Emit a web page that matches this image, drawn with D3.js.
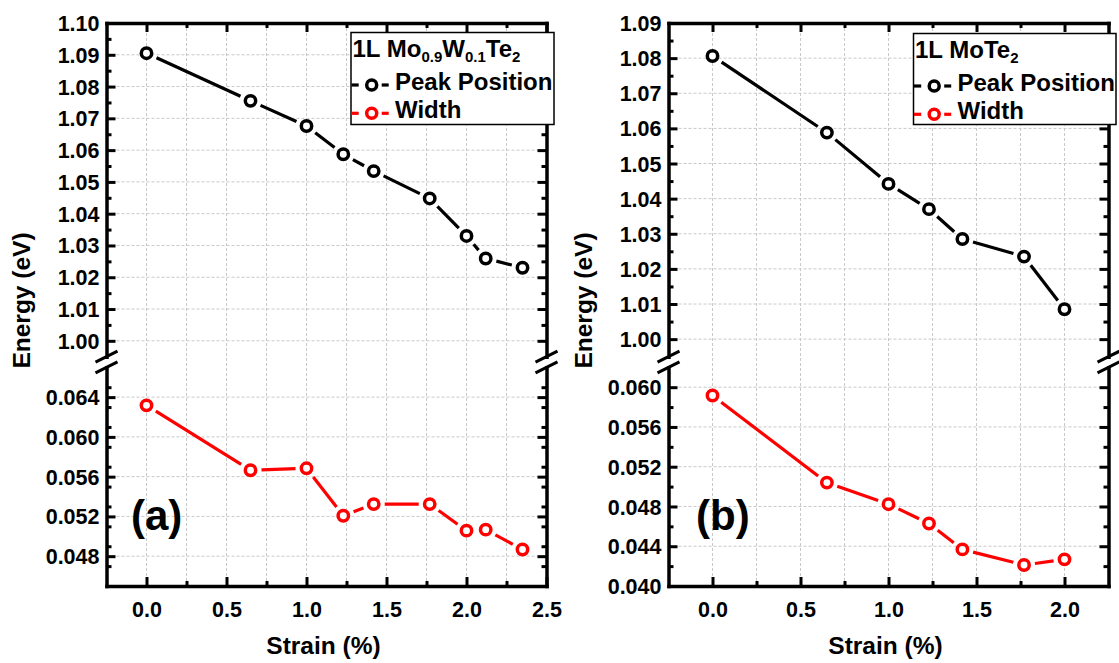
<!DOCTYPE html>
<html>
<head>
<meta charset="utf-8">
<script src="https://cdn.jsdelivr.net/npm/d3@7"></script>
<style>
  html, body { margin: 0; padding: 0; background: #fff; }
  svg { display: block; font-family: Arial, "Liberation Sans", sans-serif; font-weight: bold; }
</style>
</head>
<body>
<svg id="chart" width="1119" height="663"></svg>
<script>
// Strain (%) for each measurement
const strainA = [0, 0.65, 1.0, 1.23, 1.42, 1.77, 2.0, 2.12, 2.35];
const strainB = [0, 0.65, 1.0, 1.23, 1.42, 1.77, 2.0];

// 1L Mo0.9W0.1Te2: PL peak position and width (eV)
const peakA  = [1.0905, 1.0755, 1.0676, 1.0587, 1.0534, 1.0448, 1.0330, 1.0259, 1.0230];
const widthA = [0.06317, 0.05664, 0.05684, 0.05207, 0.05324, 0.05324, 0.05057, 0.05067, 0.04867];

// 1L MoTe2: PL peak position and width (eV)
const peakB  = [1.0806, 1.0588, 1.0442, 1.0370, 1.0285, 1.0235, 1.0085];
const widthB = [0.05916, 0.0504, 0.04823, 0.04629, 0.04368, 0.04211, 0.04268];

// Tick values
const xTicksA = [0, 0.5, 1.0, 1.5, 2.0, 2.5];
const xTicksB = [0, 0.5, 1.0, 1.5, 2.0];
const upperTicksA = [1.00, 1.01, 1.02, 1.03, 1.04, 1.05, 1.06, 1.07, 1.08, 1.09, 1.10];
const upperTicksB = [1.00, 1.01, 1.02, 1.03, 1.04, 1.05, 1.06, 1.07, 1.08, 1.09];
const lowerTicksA = [0.048, 0.052, 0.056, 0.060, 0.064];
const lowerTicksB = [0.040, 0.044, 0.048, 0.052, 0.056, 0.060];

const svg = d3.select("#chart");

function range(a, b, step) {
  const out = [];
  const n = Math.round((b - a) / step);
  for (let i = 0; i <= n; i++) out.push(+(a + i * step).toFixed(6));
  return out;
}

function drawPanel(p) {
  const g = svg.append("g");
  const x = d3.scaleLinear().domain(p.xDomain).range([p.left, p.right]);
  const yU = d3.scaleLinear().domain(p.upperDomain).range([p.breakTop, p.top]);
  const yL = d3.scaleLinear().domain(p.lowerDomain).range([p.bottom, p.breakBottom]);

  const inside = (v, dom) => v > dom[0] + 1e-9 && v < dom[1] - 1e-9;

  // dashed grid
  const grid = g.append("g").attr("stroke", "#c8c8c8").attr("stroke-width", 1)
    .attr("stroke-dasharray", "3,2").attr("fill", "none");
  p.xGrid.forEach(v => {
    grid.append("line").attr("x1", x(v)).attr("x2", x(v)).attr("y1", p.top).attr("y2", p.bottom);
  });
  p.upperTicks.filter(v => inside(v, p.upperDomain)).forEach(v => {
    grid.append("line").attr("x1", p.left).attr("x2", p.right).attr("y1", yU(v)).attr("y2", yU(v));
  });
  p.lowerTicks.filter(v => inside(v, p.lowerDomain)).forEach(v => {
    grid.append("line").attr("x1", p.left).attr("x2", p.right).attr("y1", yL(v)).attr("y2", yL(v));
  });

  // series: line segments with gaps around markers, then open circles
  function series(xs, ys, yScale, color) {
    const pts = xs.map((d, i) => [x(d), yScale(ys[i])]);
    const gap = 11;
    const sg = g.append("g").attr("stroke", color).attr("stroke-width", 3.2).attr("fill", "none");
    for (let i = 0; i < pts.length - 1; i++) {
      const [x1, y1] = pts[i], [x2, y2] = pts[i + 1];
      const len = Math.hypot(x2 - x1, y2 - y1);
      if (len <= 2 * gap) continue;
      const ux = (x2 - x1) / len, uy = (y2 - y1) / len;
      sg.append("line")
        .attr("x1", x1 + ux * gap).attr("y1", y1 + uy * gap)
        .attr("x2", x2 - ux * gap).attr("y2", y2 - uy * gap);
    }
    g.append("g").selectAll("circle").data(pts).join("circle")
      .attr("cx", d => d[0]).attr("cy", d => d[1]).attr("r", 5.2)
      .attr("fill", "#fff").attr("stroke", color).attr("stroke-width", 3.5);
  }
  series(p.strain, p.peak, yU, "#000");
  series(p.strain, p.width, yL, "#ff0000");

  // axes
  const xMinor = range(p.xDomain[0], p.xDomain[1], 0.25).filter(v => inside(v, p.xDomain) && !p.xTicks.includes(v));
  const uMinor = range(1.0, p.upperDomain[1], 0.005).filter(v => inside(v, p.upperDomain) && !p.upperTicks.some(t => Math.abs(t - v) < 1e-6));
  const lMinor = range(p.lowerDomain[0], p.lowerDomain[1], 0.002).filter(v => inside(v, p.lowerDomain) && !p.lowerTicks.some(t => Math.abs(t - v) < 1e-6));

  const axes = g.append("g");
  function addAxis(axis, transform) {
    const a = axes.append("g").attr("transform", transform).call(axis);
    a.attr("font-family", null);
    a.selectAll("path.domain").attr("stroke-width", 3.5).attr("stroke-linecap", "square");
    a.selectAll(".tick line").attr("stroke-width", 3);
    a.selectAll("text").attr("font-size", 21.5).attr("fill", "#000");
    return a;
  }
  function minorAxis(axis, transform) {
    const a = axes.append("g").attr("transform", transform).call(axis);
    a.select("path.domain").remove();
    a.selectAll(".tick line").attr("stroke-width", 3);
    a.selectAll("text").remove();
  }

  // bottom
  addAxis(d3.axisBottom(x).tickValues(p.xTicks).tickSize(-9).tickSizeOuter(0).tickPadding(15.5)
    .tickFormat(d3.format(".1f")), `translate(0,${p.bottom})`);
  minorAxis(d3.axisBottom(x).tickValues(xMinor).tickSize(-5), `translate(0,${p.bottom})`);
  // top
  addAxis(d3.axisTop(x).tickValues(p.xTicks).tickSize(-9).tickSizeOuter(0).tickFormat(""), `translate(0,${p.top})`);
  minorAxis(d3.axisTop(x).tickValues(xMinor).tickSize(-5), `translate(0,${p.top})`);

  // left, upper and lower segments
  const lu = addAxis(d3.axisLeft(yU).tickValues(p.upperTicks).tickSize(-9).tickSizeOuter(0).tickPadding(7)
    .tickFormat(d3.format(".2f")), `translate(${p.left},0)`);
  lu.selectAll("text").attr("dy", "0.35em");
  minorAxis(d3.axisLeft(yU).tickValues(uMinor).tickSize(-5), `translate(${p.left},0)`);
  const ll = addAxis(d3.axisLeft(yL).tickValues(p.lowerTicks).tickSize(-9).tickSizeOuter(0).tickPadding(7)
    .tickFormat(d3.format(".3f")), `translate(${p.left},0)`);
  ll.selectAll("text").attr("dy", "0.35em");
  minorAxis(d3.axisLeft(yL).tickValues(lMinor).tickSize(-5), `translate(${p.left},0)`);

  // right, upper and lower segments
  addAxis(d3.axisRight(yU).tickValues(p.upperTicks).tickSize(-9).tickSizeOuter(0).tickFormat(""), `translate(${p.right},0)`);
  minorAxis(d3.axisRight(yU).tickValues(uMinor).tickSize(-5), `translate(${p.right},0)`);
  addAxis(d3.axisRight(yL).tickValues(p.lowerTicks).tickSize(-9).tickSizeOuter(0).tickFormat(""), `translate(${p.right},0)`);
  minorAxis(d3.axisRight(yL).tickValues(lMinor).tickSize(-5), `translate(${p.right},0)`);

  // axis break marks
  const br = g.append("g").attr("stroke", "#000").attr("stroke-width", 3);
  [p.left, p.right].forEach(ax => {
    [p.breakTop, p.breakBottom].forEach(yb => {
      br.append("line").attr("x1", ax - 11).attr("y1", yb + 5.5).attr("x2", ax + 11).attr("y2", yb - 5.5);
    });
  });

  // axis titles
  g.append("text").attr("x", (p.left + p.right) / 2 - 3).attr("y", 654)
    .attr("text-anchor", "middle").attr("font-size", 24.5).text("Strain (%)");
  g.append("text").attr("transform", `translate(${p.yTitleX},${(p.top + p.bottom) / 2 - 4}) rotate(-90)`)
    .attr("text-anchor", "middle").attr("font-size", 24.5).text("Energy (eV)");

  // panel tag
  g.append("text").attr("x", p.tagX).attr("y", 530).attr("font-size", 42).text(p.tag);

  // legend
  const L = p.legend;
  const lg = g.append("g");
  lg.append("rect").attr("x", L.x).attr("y", L.y).attr("width", L.w).attr("height", L.h)
    .attr("fill", "#fff").attr("stroke", "#000").attr("stroke-width", 1.5);
  const title = lg.append("text").attr("x", L.x + 1.5).attr("y", L.y + 24.5).attr("font-size", 24);
  let lowered = false;
  L.title.forEach(part => {
    const ts = title.append("tspan");
    if (part.sub) {
      ts.attr("font-size", 15).attr("dy", lowered ? 0 : 5).text(part.sub);
      lowered = true;
    } else {
      ts.attr("dy", lowered ? -5 : 0).text(part.t);
      lowered = false;
    }
  });
  [["Peak Position", "#000", 52.5], ["Width", "#ff0000", 80.8]].forEach(([name, color, dy]) => {
    const cy = L.y + dy;
    const cx = L.x + 20.7;
    lg.append("line").attr("x1", L.x + 0.5).attr("x2", cx - 13).attr("y1", cy).attr("y2", cy)
      .attr("stroke", color).attr("stroke-width", 3.2);
    lg.append("line").attr("x1", cx + 10).attr("x2", cx + 17).attr("y1", cy).attr("y2", cy)
      .attr("stroke", color).attr("stroke-width", 3.2);
    lg.append("circle").attr("cx", cx).attr("cy", cy).attr("r", 5).attr("fill", "#fff")
      .attr("stroke", color).attr("stroke-width", 3.5);
    lg.append("text").attr("x", L.x + 44).attr("y", cy + 4.8 + (name === "Width" ? 0.3 : -0.3))
      .attr("font-size", 24).text(name);
  });
}

drawPanel({
  left: 106.5, right: 546.5, top: 23, bottom: 586, breakTop: 356.7, breakBottom: 367.3,
  xDomain: [-0.25, 2.5], xTicks: xTicksA, xGrid: range(0, 2.25, 0.25),
  upperDomain: [0.995, 1.10], lowerDomain: [0.045, 0.067],
  upperTicks: upperTicksA, lowerTicks: lowerTicksA,
  strain: strainA, peak: peakA, width: widthA,
  yTitleX: 30, tag: "(a)", tagX: 131,
  legend: { x: 351, y: 32.5, w: 203, h: 92,
    title: [{t: "1L Mo"}, {sub: "0.9"}, {t: "W"}, {sub: "0.1"}, {t: "Te"}, {sub: "2"}] }
});

drawPanel({
  left: 668.5, right: 1108.5, top: 23, bottom: 586, breakTop: 356.7, breakBottom: 367.3,
  xDomain: [-0.25, 2.25], xTicks: xTicksB, xGrid: range(0, 2.0, 0.25),
  upperDomain: [0.995, 1.09], lowerDomain: [0.040, 0.062],
  upperTicks: upperTicksB, lowerTicks: lowerTicksB,
  strain: strainB, peak: peakB, width: widthB,
  yTitleX: 592, tag: "(b)", tagX: 696,
  legend: { x: 913.5, y: 33.5, w: 202.5, h: 91,
    title: [{t: "1L MoTe"}, {sub: "2"}] }
});
</script>
</body>
</html>
